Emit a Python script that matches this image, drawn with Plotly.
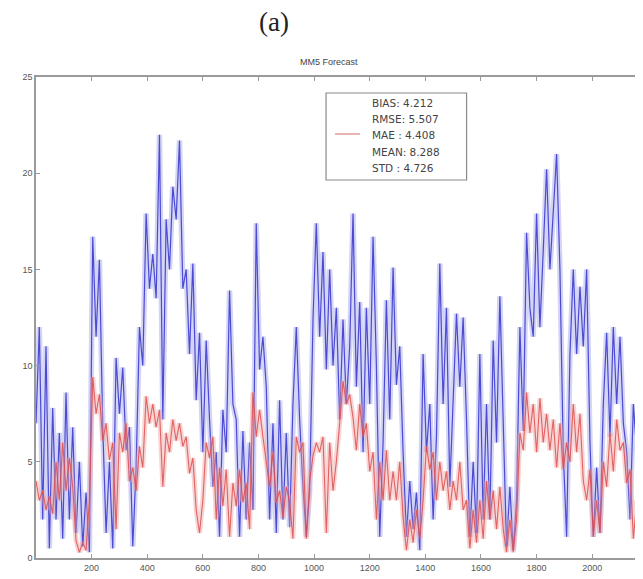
import plotly.graph_objects as go

step = 12  # hours between read samples
blue_obs = [7, 12, 2, 11, 0.5, 7.8, 2, 6.5, 1, 8.6, 2, 6.8, 1.3, 5, 0.6, 3.4, 0.3, 16.7, 11.5, 15.5,
            6.8, 1.3, 5, 0.5, 10.4, 7.5, 9.9, 5.6, 6.8, 0.6, 4.7, 12, 10, 17.9, 14, 15.8, 13.5, 22, 7.2, 17.6,
            15, 19.3, 17.6, 21.7, 14, 15, 10.6, 15.3, 8.2, 11.7, 5.5, 11.3, 7.2, 3.7, 5.5, 1.1, 7.7, 5.5, 13.9, 8,
            7.2, 1.1, 6.6, 2, 6, 2.5, 17.4, 9.8, 11.5, 8.9, 2, 7, 1.3, 8.2, 2, 6.5, 1.6, 8, 12, 7.2,
            3.7, 1.1, 3.5, 12.4, 17.4, 11.5, 15.9, 9.8, 15, 10, 13, 7.2, 12.4, 8, 11, 17.9, 8.9, 13.3, 5.5, 13,
            8, 16.7, 10, 1.1, 6, 13.4, 7.2, 15.1, 9, 11, 5.5, 1.1, 4, 1.5, 3.4, 0.4, 10.6, 5.5, 8, 2,
            6.3, 15.3, 8, 13, 3.7, 8, 12.7, 8.9, 12.5, 7.2, 1.1, 5, 1.3, 10.6, 2, 8, 2, 11.3, 6, 13.6,
            7.2, 0.6, 3.7, 0.4, 3, 12, 6.6, 16.9, 13, 11.5, 17.9, 12, 16, 20.2, 15, 18, 21, 15, 5.5, 1.1,
            10.6, 15, 10.6, 14.1, 11, 15, 6, 1.1, 4.7, 1.3, 8, 11.7, 6.3, 12, 8, 11.5, 7, 5.5, 2, 8,
            5.5, 7]
red_mm5 = [4, 3, 3.5, 2.5, 3.2, 2.3, 5, 3, 6, 3.5, 5.2, 3.7, 0.9, 0.3, 0.8, 0.4, 3, 9.4, 7.5, 8.5,
           6.1, 7, 5.1, 6, 1.5, 6.5, 5.5, 7, 4, 4.7, 3.5, 5.8, 4.7, 8.4, 7, 8, 6.8, 7.7, 3.7, 6.5,
           5.5, 7.2, 6.1, 7, 5.8, 6.3, 4.4, 5.2, 2.5, 1.3, 3, 6, 5.2, 6.3, 2, 4.7, 2.7, 4.6, 1.1, 3.9,
           2.7, 4.6, 2.9, 3.9, 1.5, 8.6, 6.3, 7.7, 6.3, 5.1, 3.7, 5.5, 2.9, 3.5, 2.1, 3.7, 2.9, 1, 6.3, 5.5,
           6, 1, 4, 5.3, 6, 5.5, 6.3, 1.3, 6, 3.5, 5, 7, 9.2, 8, 8.5, 7.3, 5.6, 8, 6.3, 7,
           4.5, 5.5, 2, 5, 3, 5.6, 3, 4.5, 3, 5, 2.1, 0.4, 2, 0.8, 2.5, 1, 3, 5.8, 4.6, 5.5,
           3, 5, 3.5, 4.5, 2.5, 4, 3, 5, 2.5, 3, 0.5, 2.5, 0.8, 3, 1, 4, 2, 3.5, 1.5, 3.7,
           1.5, 0.3, 2, 0.3, 2, 6.5, 5.6, 8.6, 6.5, 8, 5.5, 8.3, 6, 7.5, 5.6, 7.2, 4.7, 7, 4.6, 6,
           5, 8, 5.5, 7.5, 4, 3, 4.6, 1.1, 3, 1.3, 5, 3.7, 6.5, 4.5, 7.2, 5.6, 6, 3.9, 4.6, 1,
           3, 0.3]
x_hours = [i * step for i in range(len(blue_obs))]

x_ticks = [200, 400, 600, 800, 1000, 1200, 1400, 1600, 1800, 2000]
y_ticks = [0, 5, 10, 15, 20, 25]
stats_lines = ["BIAS: 4.212", "RMSE: 5.507", "MAE : 4.408", "MEAN: 8.288", "STD : 4.726"]

fig = go.Figure()
# soft halo + core line for each series, mimicking the dense blurred band
fig.add_trace(go.Scatter(x=x_hours, y=blue_obs, mode="lines",
                         line=dict(color="rgba(160,160,235,0.45)", width=5.5), showlegend=False))
fig.add_trace(go.Scatter(x=x_hours, y=blue_obs, mode="lines",
                         line=dict(color="rgba(50,50,205,0.85)", width=1.2), showlegend=False))
fig.add_trace(go.Scatter(x=x_hours, y=red_mm5, mode="lines",
                         line=dict(color="rgba(240,160,160,0.45)", width=5), showlegend=False))
fig.add_trace(go.Scatter(x=x_hours, y=red_mm5, mode="lines",
                         line=dict(color="rgba(220,70,70,0.8)", width=1.1), showlegend=False))

OFF = 8  # page body margin
W, H = 643 - OFF, 579 - OFF
L, R, T, B = 36 - OFF, 0, 77 - OFF, 21
pw, ph = W - L - R, H - T - B

def px(xp):  # page pixel -> paper
    return (xp - OFF - L) / pw

def py(yp):
    return (H - B - (yp - OFF)) / ph

x_max = pw * 3.584

axis_common = dict(showgrid=False, zeroline=False, showline=True, linecolor="#9a9a9a", linewidth=1.5,
                   mirror="ticks", ticks="inside", ticklen=4, tickcolor="#9a9a9a",
                   tickfont=dict(family="Arial", size=9, color="#555"))
fig.update_xaxes(range=[0, x_max], tickvals=x_ticks, **axis_common)
fig.update_yaxes(range=[0, 25], tickvals=y_ticks, **axis_common)

fig.add_annotation(text="(a)", x=px(275), y=py(22), xref="paper", yref="paper", showarrow=False,
                   xanchor="center", yanchor="middle",
                   font=dict(family="Liberation Serif", size=27, color="#222"))
fig.add_annotation(text="MM5 Forecast", x=px(330), y=py(62), xref="paper", yref="paper", showarrow=False,
                   xanchor="center", yanchor="middle",
                   font=dict(family="Arial", size=9, color="#444"))

# stats box
fig.add_shape(type="rect", xref="paper", yref="paper", x0=px(327), x1=px(468), y0=py(180), y1=py(93),
              line=dict(color="#8a8a8a", width=1.2), fillcolor="white", layer="above")
fig.add_shape(type="line", xref="paper", yref="paper", x0=px(336), x1=px(361), y0=py(134), y1=py(134),
              line=dict(color="rgba(200,90,90,0.9)", width=1), layer="above")
for k, txt in enumerate(stats_lines):
    fig.add_annotation(text=txt, x=px(371), y=py(103 + k * 16.2), xref="paper", yref="paper",
                       showarrow=False, xanchor="left", yanchor="middle",
                       font=dict(family="DejaVu Sans", size=10.5, color="#444"))

fig.update_layout(width=W, height=H, margin=dict(l=L, r=R, t=T, b=B),
                  plot_bgcolor="white", paper_bgcolor="white")
fig.write_html("out.html")
